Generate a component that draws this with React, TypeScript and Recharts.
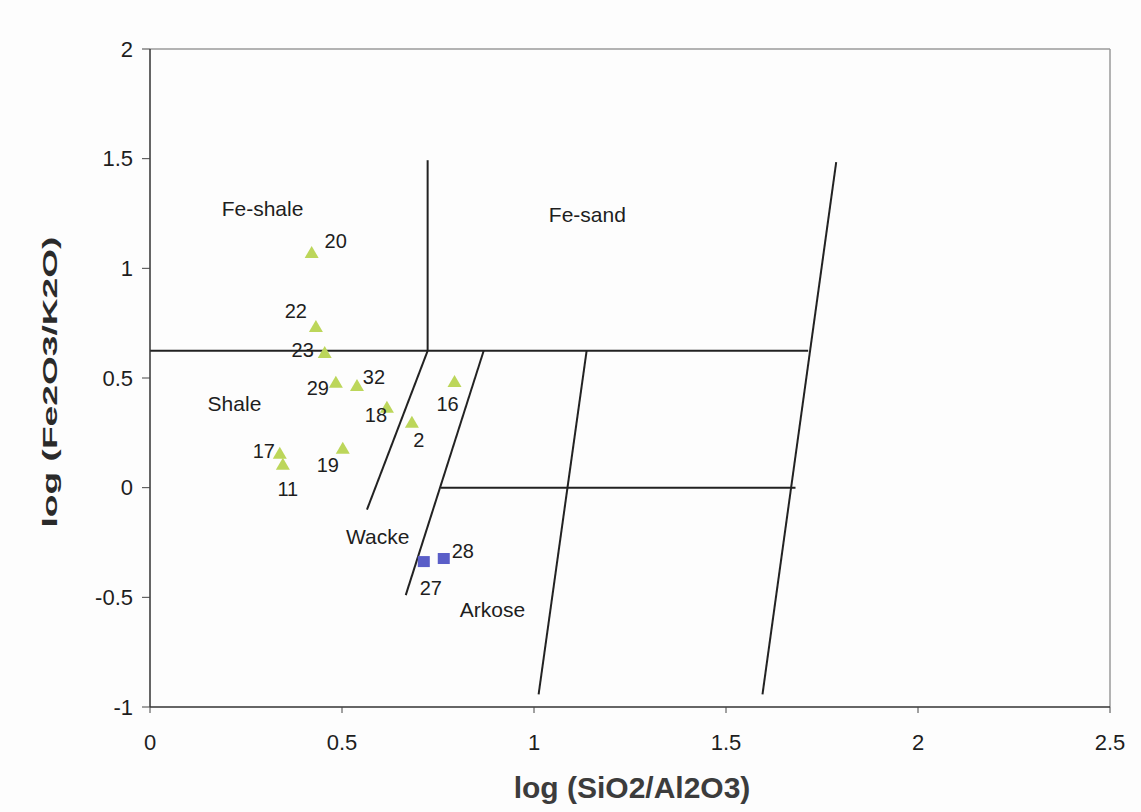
import { ScatterChart, Scatter, XAxis, YAxis, ReferenceLine } from 'recharts';

// Herron (1988) style classification: log(SiO2/Al2O3) vs log(Fe2O3/K2O)
const X_TICKS = [0, 0.5, 1, 1.5, 2, 2.5];
const Y_TICKS = [-1, -0.5, 0, 0.5, 1, 1.5, 2];

const TRIANGLE_POINTS = [
  { name: '20', x: 0.421, y: 1.07 },
  { name: '22', x: 0.432, y: 0.733 },
  { name: '23', x: 0.455, y: 0.614 },
  { name: '29', x: 0.484, y: 0.478 },
  { name: '32', x: 0.539, y: 0.464 },
  { name: '18', x: 0.617, y: 0.364 },
  { name: '2', x: 0.682, y: 0.296 },
  { name: '16', x: 0.793, y: 0.482 },
  { name: '19', x: 0.502, y: 0.178 },
  { name: '17', x: 0.338, y: 0.155 },
  { name: '11', x: 0.346, y: 0.105 },
];

const SQUARE_POINTS = [
  { name: '27', x: 0.713, y: -0.337 },
  { name: '28', x: 0.765, y: -0.323 },
];

const REGION_LABELS = [
  { name: 'Fe-shale', x: 0.293, y: 1.274 },
  { name: 'Fe-sand', x: 1.139, y: 1.247 },
  { name: 'Shale', x: 0.22, y: 0.382 },
  { name: 'Wacke', x: 0.593, y: -0.223 },
  { name: 'Arkose', x: 0.892, y: -0.555 },
];

// field boundaries, [from, to]
const BOUNDARIES = [
  [{ x: 0, y: 0.624 }, { x: 1.714, y: 0.624 }],
  [{ x: 0.723, y: 1.493 }, { x: 0.723, y: 0.624 }],
  [{ x: 0.723, y: 0.624 }, { x: 0.565, y: -0.1 }],
  [{ x: 0.869, y: 0.624 }, { x: 0.666, y: -0.49 }],
  [{ x: 0.757, y: 0 }, { x: 1.681, y: 0 }],
  [{ x: 1.137, y: 0.624 }, { x: 1.012, y: -0.942 }],
  [{ x: 1.787, y: 1.484 }, { x: 1.595, y: -0.942 }],
];

// where each sample number sits relative to its marker (px)
const LABEL_OFFSET: Record<string, [number, number]> = {
  '20': [24, -12], '22': [-20, -16], '23': [-22, -3], '29': [-18, 5],
  '32': [17, -9], '18': [-11, 7], '2': [7, 17], '16': [-7, 22],
  '19': [-15, 16], '17': [-16, -3], '11': [5, 24], '27': [7, 26], '28': [19, -8],
};

const FONT = 'Liberation Sans, Arial, sans-serif';
const TXT = '#1e1e1e';

function NumLabel({ cx, cy, name }: { cx: number; cy: number; name: string }) {
  const [dx, dy] = LABEL_OFFSET[name] || [0, 0];
  return (
    <text x={cx + dx} y={cy + dy} textAnchor="middle" dominantBaseline="central" fontSize={20} fontFamily={FONT} fill={TXT}>
      {name}
    </text>
  );
}

function Triangle(props: any) {
  const { cx, cy, payload } = props;
  return (
    <g>
      <polygon points={`${cx},${cy - 7} ${cx - 7},${cy + 5} ${cx + 7},${cy + 5}`} fill="#bcd65a" />
      <NumLabel cx={cx} cy={cy} name={payload.name} />
    </g>
  );
}

function Square(props: any) {
  const { cx, cy, payload } = props;
  return (
    <g>
      <rect x={cx - 6} y={cy - 5.5} width={12} height={11} fill="#5a5ec8" />
      <NumLabel cx={cx} cy={cy} name={payload.name} />
    </g>
  );
}

function RegionText(props: any) {
  const { cx, cy, payload } = props;
  return (
    <text x={cx} y={cy} textAnchor="middle" dominantBaseline="central" fontSize={21} fontFamily={FONT} fill={TXT}>
      {payload.name}
    </text>
  );
}

export default function App() {
  return (
    <div style={{ position: 'absolute', left: 0, top: 0, width: 1141, height: 812, background: '#fdfdfd' }}>
      <ScatterChart width={1141} height={812} margin={{ top: 49, right: 31, bottom: 0, left: 50 }}>
        <XAxis
          type="number" dataKey="x" domain={[0, 2.5]} ticks={X_TICKS} height={105}
          axisLine={{ stroke: '#333', strokeWidth: 1.5 }} tickLine={{ stroke: '#444' }} tickSize={6} tickMargin={21}
          tick={{ fill: TXT, fontSize: 22, fontFamily: FONT }}
          label={{
            content: () => (
              <text x={632} y={798} textAnchor="middle" fontSize={30} fontWeight="bold" fontFamily={FONT} fill="#3c3c3c">
                log (SiO2/Al2O3)
              </text>
            ),
          }}
        />
        <YAxis
          type="number" dataKey="y" domain={[-1, 2]} ticks={Y_TICKS} width={100}
          axisLine={{ stroke: '#333', strokeWidth: 1.5 }} tickLine={{ stroke: '#444' }} tickSize={8} tickMargin={9}
          tick={{ fill: TXT, fontSize: 22, fontFamily: FONT }}
          label={{
            content: () => (
              <text
                x={49} y={382} transform="rotate(-90 49 382)" textAnchor="middle" dominantBaseline="central"
                fontSize={21} fontWeight="bold" fontFamily={FONT} fill="#2a2a2a" textLength={291} lengthAdjust="spacingAndGlyphs"
              >
                log (Fe2O3/K2O)
              </text>
            ),
          }}
        />
        <ReferenceLine y={2} stroke="#9a9a9a" strokeWidth={1.5} />
        <ReferenceLine x={2.5} stroke="#9a9a9a" strokeWidth={1.5} />
        {BOUNDARIES.map((seg, i) => (
          <ReferenceLine key={i} segment={seg} stroke="#222" strokeWidth={2} />
        ))}
        <Scatter data={REGION_LABELS} shape={RegionText} isAnimationActive={false} />
        <Scatter data={TRIANGLE_POINTS} shape={Triangle} isAnimationActive={false} />
        <Scatter data={SQUARE_POINTS} shape={Square} isAnimationActive={false} />
      </ScatterChart>
    </div>
  );
}
